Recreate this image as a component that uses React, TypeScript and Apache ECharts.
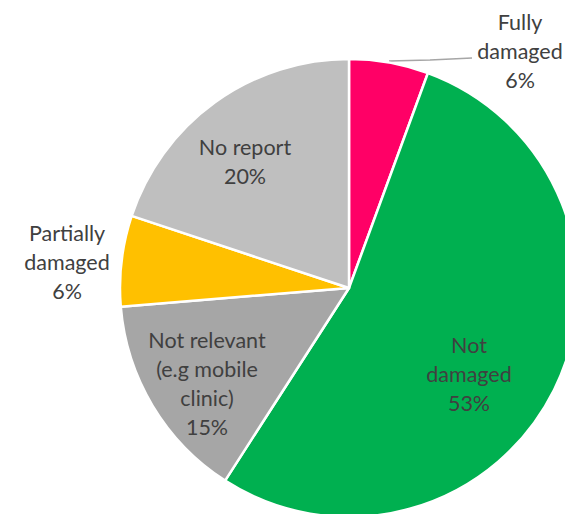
import React, { useEffect, useRef } from "react";
import * as echarts from "echarts";

const categories = ["Fully\ndamaged", "Not\ndamaged", "Not relevant\n(e.g mobile\nclinic)", "Partially\ndamaged", "No report"];
const values = [5.6, 53.5, 14.6, 6.4, 19.9];
const percentLabels = ["6%", "53%", "15%", "6%", "20%"];
const colors = ["#FF0066", "#00B050", "#A6A6A6", "#FFC000", "#BFBFBF"];
const labelSpots = [
  [520, 51],
  [469, 374],
  [207, 383],
  [67, 262],
  [245, 161],
];

export default function App() {
  const ref = useRef<HTMLDivElement>(null);
  useEffect(() => {
    document.body.style.margin = "0";
    const chart = echarts.init(ref.current!, null, { renderer: "svg" });
    chart.setOption({
      animation: false,
      backgroundColor: "#ffffff",
      series: [
        {
          type: "pie",
          center: [349, 288],
          radius: 229,
          startAngle: 90,
          clockwise: true,
          avoidLabelOverlap: false,
          itemStyle: { borderColor: "#ffffff", borderWidth: 2.5 },
          label: {
            show: true,
            position: "inside",
            fontFamily: "Lato",
            fontSize: 21.5,
            lineHeight: 29,
            color: "#404040",
            align: "center",
            formatter: (p: any) => `${categories[p.dataIndex]}\n${percentLabels[p.dataIndex]}`,
          },
          labelLine: { show: false },
          labelLayout: (p: any) => {
            const s = labelSpots[p.dataIndex];
            const out: any = { x: s[0], y: s[1], align: "center", verticalAlign: "middle" };
            if (p.dataIndex === 0) {
              out.labelLinePoints = [[389, 61], [430, 60], [472, 58]];
            }
            return out;
          },
          data: values.map((v, i) => ({
            value: v,
            name: categories[i],
            itemStyle: { color: colors[i] },
            ...(i === 0
              ? {
                  label: { position: "outside" },
                  labelLine: { show: true, length: 10, length2: 10, lineStyle: { color: "#A6A6A6", width: 1.5 } },
                }
              : {}),
          })),
        },
      ],
    });
    return () => chart.dispose();
  }, []);
  return <div ref={ref} style={{ position: "fixed", left: 0, top: 0, width: 565, height: 514 }} />;
}
